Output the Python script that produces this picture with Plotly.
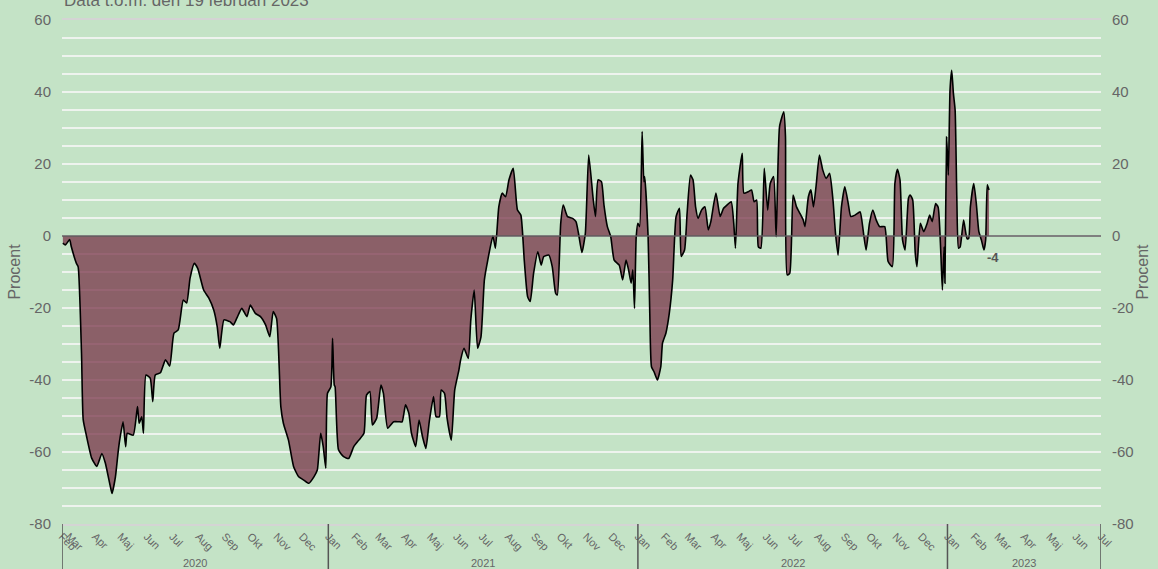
import pandas as pd
import plotly.graph_objects as go

# ---- data -------------------------------------------------------------
START = "2020-02-22"
# days since START
days = [1, 4, 9, 11, 17, 19, 23, 25, 29, 35, 41, 47, 51, 57, 59, 63, 66, 68, 72, 75,
        77, 84, 89, 91, 94, 96, 99, 104, 107, 110, 116, 122, 127, 132, 137, 143, 147, 151, 156, 160,
        167, 173, 179, 183, 186, 191, 198, 202, 206, 212, 218, 222, 228, 234, 240, 245, 249, 253, 258, 261,
        267, 273, 279, 285, 291, 297, 301, 305, 308, 311, 313, 317, 319, 321, 322, 326, 332, 338, 344, 350,
        356, 359, 363, 366, 371, 376, 379, 384, 391, 397, 401, 405, 409, 412, 417, 421, 425, 429, 433, 438,
        441, 445, 447, 451, 454, 459, 463, 468, 470, 474, 479, 482, 486, 490, 494, 498, 502, 508, 511, 515,
        519, 523, 527, 532, 537, 541, 545, 549, 552, 556, 561, 565, 568, 574, 578, 582, 584, 588, 591, 596,
        602, 606, 609, 613, 617, 621, 626, 629, 632, 636, 639, 643, 647, 651, 657, 661, 665, 668, 671, 673,
        675, 677, 679, 681, 684, 686, 687, 691, 693, 695, 698, 702, 706, 708, 712, 716, 720, 724, 728, 730,
        734, 737, 741, 744, 747, 750, 754, 758, 762, 765, 771, 776, 780, 784, 789, 792, 794, 797, 802, 804,
        809, 813, 816, 819, 821, 824, 828, 832, 835, 839, 842, 846, 851, 853, 855, 858, 862, 866, 870, 874,
        876, 880, 883, 886, 889, 893, 897, 901, 905, 909, 912, 915, 919, 923, 927, 930, 935, 941, 943, 948,
        952, 956, 960, 964, 970, 974, 979, 982, 985, 988, 991, 994, 998, 1000, 1003, 1006, 1008, 1012, 1016, 1020,
        1023, 1026, 1030, 1033, 1036, 1038, 1040, 1041, 1043, 1045, 1047, 1049, 1051, 1053, 1055, 1057, 1059, 1063, 1067, 1069,
        1071, 1075, 1078, 1081, 1084, 1087, 1089, 1090, 1091, 1093]
values = [-2.0, -2.5, -1.0, -3.0, -7.6, -8.5, -32.6, -51.0, -55.7, -61.7, -64.0, -60.4, -63.0, -69.6, -71.5, -66.9, -60.4, -56.7, -51.6, -58.5,
          -54.8, -55.3, -47.4, -52.0, -50.2, -54.8, -38.6, -39.5, -46.0, -38.6, -38.0, -34.4, -36.1, -27.0, -26.1, -17.8, -18.6, -11.7, -7.6, -9.0,
          -15.0, -17.2, -20.6, -25.2, -31.2, -23.3, -23.8, -24.7, -22.9, -20.1, -22.4, -19.2, -21.5, -22.4, -24.7, -28.0, -21.0, -22.9, -47.4, -52.0,
          -56.7, -64.0, -66.9, -67.8, -68.7, -66.9, -65.0, -54.8, -58.5, -64.5, -43.7, -41.9, -28.4, -41.4, -41.9, -59.4, -61.3, -61.8, -58.5, -56.7,
          -54.8, -44.2, -43.2, -52.5, -50.6, -41.4, -43.7, -53.4, -51.6, -51.6, -51.6, -46.9, -49.3, -54.8, -58.5, -51.1, -55.7, -59.0, -51.6, -44.6,
          -50.2, -50.2, -42.8, -43.7, -50.6, -56.7, -42.8, -37.2, -34.4, -31.2, -34.0, -23.3, -15.0, -31.2, -28.0, -12.2, -6.7, 0.0, -3.4, 8.1,
          11.9, 10.9, 15.6, 18.8, 7.2, 5.8, -6.7, -16.9, -18.2, -10.4, -4.4, -8.1, -5.7, -5.3, -8.5, -15.9, -16.4, 3.5, 8.6, 5.4,
          4.9, 4.0, 0.7, -4.6, 0.7, 22.5, 10.9, 5.4, 15.6, 15.1, 8.6, 2.6, -0.2, -6.7, -8.1, -12.2, -6.7, -9.4, -13.1, -9.4,
          -20.1, -0.2, 3.5, 2.6, 29.0, 15.1, 16.5, 0.0, -21.5, -36.3, -37.7, -40.0, -36.3, -29.8, -27.0, -21.5, -12.2, 5.4, 7.7, -5.7,
          -3.9, 6.3, 16.9, 15.6, 8.1, 4.9, 7.2, 8.1, 1.7, 4.0, 11.9, 5.4, 7.7, 8.6, 9.5, 3.5, -3.4, 14.6, 23.0, 11.9,
          12.3, 12.8, 9.5, 10.0, -3.0, -3.4, 18.8, 7.2, 14.6, 16.5, -0.2, 30.4, 34.5, 27.6, -10.8, -10.4, 11.4, 8.1, 6.3, 4.4,
          2.6, 10.9, 12.8, 8.1, 13.7, 22.5, 18.3, 16.0, 17.4, 10.0, 0.7, -5.3, 8.1, 13.7, 9.0, 5.4, 5.8, 6.7, 4.4, -3.9,
          3.5, 7.2, 4.4, 2.6, 2.6, -7.1, -8.5, 14.6, 18.5, 15.6, -1.1, -3.9, 10.5, 11.4, 10.0, -4.8, -8.5, 3.5, 1.2, 3.5,
          5.8, 4.0, 9.0, 8.0, -3.9, -15.0, -3.0, -13.1, 27.5, 16.9, 40.6, 46.0, 39.6, 35.0, 10.9, -3.4, -3.0, 4.4, -0.7, -0.7,
          8.1, 14.6, 9.0, 1.2, -1.1, -3.9, -1.1, 8.1, 14.2, 12.8]

MONTHS = ["Jan", "Feb", "Mar", "Apr", "Maj", "Jun", "Jul", "Aug", "Sep", "Okt", "Nov", "Dec"]
YEARS = ["2020", "2021", "2022", "2023"]
X_END = "2023-07-01"
Y_TICKS = list(range(-80, 61, 5))
SUBTITLE = "Data t.o.m. den 19 februari 2023"
END_LABEL = "-4"
END_LABEL_Y = -6

# ---- build ------------------------------------------------------------
start = pd.Timestamp(START)
x = [start + pd.Timedelta(days=d) for d in days]

month_starts = pd.date_range("2020-03-01", X_END, freq="MS")
tickvals = [start] + list(month_starts)
ticktext = ["Feb"] + [MONTHS[d.month - 1] for d in month_starts]

ytext = [str(v) if v % 20 == 0 else "" for v in Y_TICKS]

BG = "#c4e3c6"
TXT = "#666666"
FONT = "Liberation Sans, Arial, sans-serif"

fig = go.Figure()
fig.add_trace(go.Scatter(
    x=x, y=values, mode="lines", fill="tozeroy",
    fillcolor="rgba(120,52,72,0.75)",
    line=dict(color="#000000", width=1.6, shape="spline", smoothing=0.5),
    showlegend=False, hoverinfo="x+y",
))
fig.add_trace(go.Scatter(
    x=x, y=values, mode="lines", yaxis="y2",
    line=dict(width=0, color="rgba(0,0,0,0)"),
    showlegend=False, hoverinfo="skip",
))

yax = dict(
    range=[-80, 60], tickvals=Y_TICKS, ticktext=ytext,
    showgrid=True, gridcolor="#eef3ee", gridwidth=2,
    zeroline=False, showline=False, ticks="",
    tickfont=dict(size=15, color=TXT, family=FONT),
    ticklabelstandoff=10,
    title=dict(text="Procent", font=dict(size=16, color=TXT, family=FONT), standoff=4),
    fixedrange=True,
)
fig.update_layout(
    width=1158, height=569,
    margin=dict(l=62, r=57, t=20, b=45),
    paper_bgcolor=BG, plot_bgcolor=BG,
    font=dict(family=FONT, color=TXT),
    xaxis=dict(
        type="date", range=[start, pd.Timestamp(X_END)],
        tickvals=tickvals, ticktext=ticktext, tickangle=45,
        tickfont=dict(size=11, color=TXT, family=FONT),
        showgrid=False, zeroline=False,
        showline=True, linecolor="#d4d4d4", linewidth=2, mirror=True,
        ticks="", automargin=False,
    ),
    yaxis=dict(**yax, side="left", automargin=False),
    yaxis2=dict(**{k: v for k, v in yax.items() if k not in ("showgrid",)},
                showgrid=False, side="right", overlaying="y", automargin=False),
)

# zero line above the fill
fig.add_shape(type="line", xref="paper", x0=0, x1=1, yref="y", y0=0, y1=0,
              line=dict(color="#5a5a5a", width=1.5), layer="above")

# year dividers and labels
bounds = [start] + [pd.Timestamp(f"{y}-01-01") for y in YEARS[1:]] + [pd.Timestamp(X_END)]
for b in bounds:
    fig.add_shape(type="line", xref="x", x0=b, x1=b, yref="paper", y0=0, y1=-0.095,
                  line=dict(color="#555555", width=1.5), layer="above")
for i, yr in enumerate(YEARS):
    mid = bounds[i] + (bounds[i + 1] - bounds[i]) / 2
    fig.add_annotation(x=mid, xref="x", y=-0.077, yref="paper", text=yr, showarrow=False,
                       font=dict(size=11, color=TXT, family=FONT), yanchor="middle")

fig.add_annotation(x=0, xref="paper", xanchor="left", y=1.016, yref="paper", yanchor="bottom",
                   text=SUBTITLE, showarrow=False, font=dict(size=17, color=TXT, family=FONT))
fig.add_annotation(x=x[-1], xref="x", xanchor="left", xshift=-4, y=END_LABEL_Y, yref="y", yanchor="middle",
                   text=f"<b>{END_LABEL}</b>", showarrow=False, font=dict(size=13, color="#555555", family=FONT))

fig.write_html("out.html", config={"displayModeBar": False},
               post_script="document.body.style.margin='0';document.body.style.overflow='hidden';")
